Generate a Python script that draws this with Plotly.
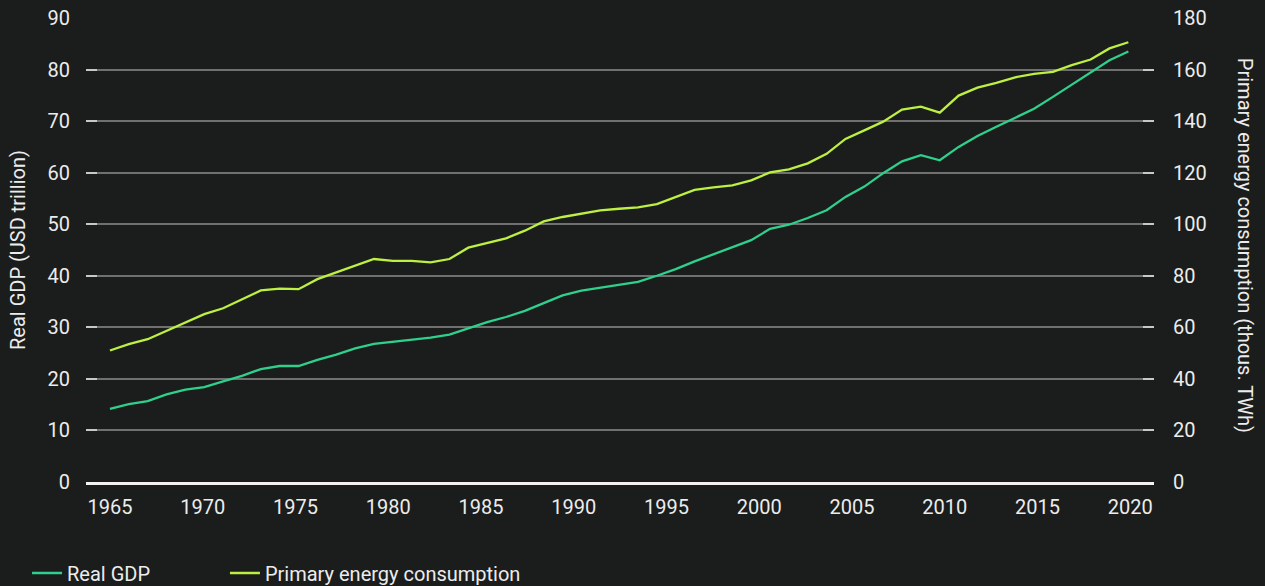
import numpy as np
import plotly.graph_objects as go

years = list(range(1965, 2020))
real_gdp = [14.2, 15.1, 15.7, 17.0, 17.9, 18.4, 19.5, 20.6, 21.9, 22.5,
            22.5, 23.7, 24.7, 25.9, 26.8, 27.2, 27.7, 28.0, 28.6, 29.8,
            31.0, 32.0, 33.2, 34.7, 36.2, 37.1, 37.7, 38.3, 38.8, 40.0,
            41.3, 42.8, 44.2, 45.5, 46.9, 49.1, 49.9, 51.2, 52.7, 55.3,
            57.3, 59.9, 62.2, 63.4, 62.4, 65.0, 67.1, 68.9, 70.6, 72.4,
            74.7, 77.1, 79.4, 81.8, 83.5]
energy = [51.0, 53.5, 55.4, 58.6, 61.7, 65.1, 67.4, 70.7, 74.3, 75.0,
          74.8, 78.7, 81.3, 84.0, 86.5, 85.8, 85.8, 85.2, 86.5, 90.9,
          92.7, 94.5, 97.5, 101.1, 102.8, 104.0, 105.4, 106.0, 106.5, 107.8,
          110.4, 113.3, 114.3, 115.1, 117.0, 120.1, 121.3, 123.6, 127.3, 133.1,
          136.4, 139.8, 144.5, 145.6, 143.3, 149.9, 153.0, 154.8, 157.0, 158.3,
          159.1, 161.7, 163.9, 168.2, 170.6]
x_tick_labels = ["1965", "1970", "1975", "1980", "1985", "1990",
                 "1995", "2000", "2005", "2010", "2015", "2020"]
gdp_ticks = [0, 10, 20, 30, 40, 50, 60, 70, 80, 90]
energy_ticks = [0, 20, 40, 60, 80, 100, 120, 140, 160, 180]

BG = "#1b1c1c"
GDP_COLOR = "#2fd08b"
ENERGY_COLOR = "#bcf042"
TEXT = "#ececec"
GRID = "#707070"
FONT = "Roboto"

fig = go.Figure()
fig.add_trace(go.Scatter(x=years, y=real_gdp, name="Real GDP", mode="lines",
                         line=dict(color=GDP_COLOR, width=2.3), yaxis="y",
                         legend="legend"))
fig.add_trace(go.Scatter(x=years, y=energy, name="Primary energy consumption",
                         mode="lines", line=dict(color=ENERGY_COLOR, width=2.3),
                         yaxis="y2", legend="legend2"))

tickvals_x = np.linspace(1965, 2019.1, len(x_tick_labels))

legend_common = dict(orientation="h", xanchor="left", yref="container",
                     y=0.0222, yanchor="middle", font=dict(size=20, color=TEXT),
                     bgcolor="rgba(0,0,0,0)")

fig.update_layout(
    width=1265, height=586,
    paper_bgcolor=BG, plot_bgcolor=BG,
    margin=dict(l=86, r=111, t=18, b=104, autoexpand=False),
    font=dict(family=FONT, size=20, color=TEXT),
    showlegend=True,
    legend=dict(x=-0.0552, **legend_common),
    legend2=dict(x=0.1301, **legend_common),
    xaxis=dict(range=[1963.73, 2020.36], tickvals=tickvals_x,
               ticktext=x_tick_labels, showgrid=False, zeroline=False,
               showline=True, linecolor="#f2f2f2", linewidth=3,
               ticks="", ticklabelstandoff=5, automargin=False,
               tickfont=dict(size=20, color=TEXT)),
    yaxis=dict(range=[0, 90], tickvals=gdp_ticks, showgrid=True,
               gridcolor=GRID, gridwidth=1.5, zeroline=False,
               ticks="inside", ticklen=11, tickwidth=2, tickcolor="#c8c8c8",
               ticklabelstandoff=15, tickfont=dict(size=20, color=TEXT),
               showline=False, automargin=False),
    yaxis2=dict(range=[0, 180], tickvals=energy_ticks, overlaying="y",
                side="right", showgrid=False, zeroline=False,
                ticks="inside", ticklen=11, tickwidth=2, tickcolor="#c8c8c8",
                ticklabelstandoff=18, tickfont=dict(size=20, color=TEXT),
                showline=False, automargin=False),
    annotations=[
        dict(text="Real GDP (USD trillion)", xref="paper", yref="paper",
             x=-0.0637, y=0.5, xanchor="center", yanchor="middle",
             textangle=-90, showarrow=False,
             font=dict(size=20, color=TEXT, family=FONT)),
        dict(text="Primary energy consumption (thous. TWh)", xref="paper",
             yref="paper", x=1.0852, y=0.509, xanchor="center",
             yanchor="middle", textangle=90, showarrow=False,
             font=dict(size=20, color=TEXT, family=FONT)),
    ],
)

fig.write_html(
    "out.html",
    config={"displayModeBar": False},
    post_script="document.body.style.margin='0';"
                "document.body.style.overflow='hidden';"
                "document.body.style.background='" + BG + "';",
)
